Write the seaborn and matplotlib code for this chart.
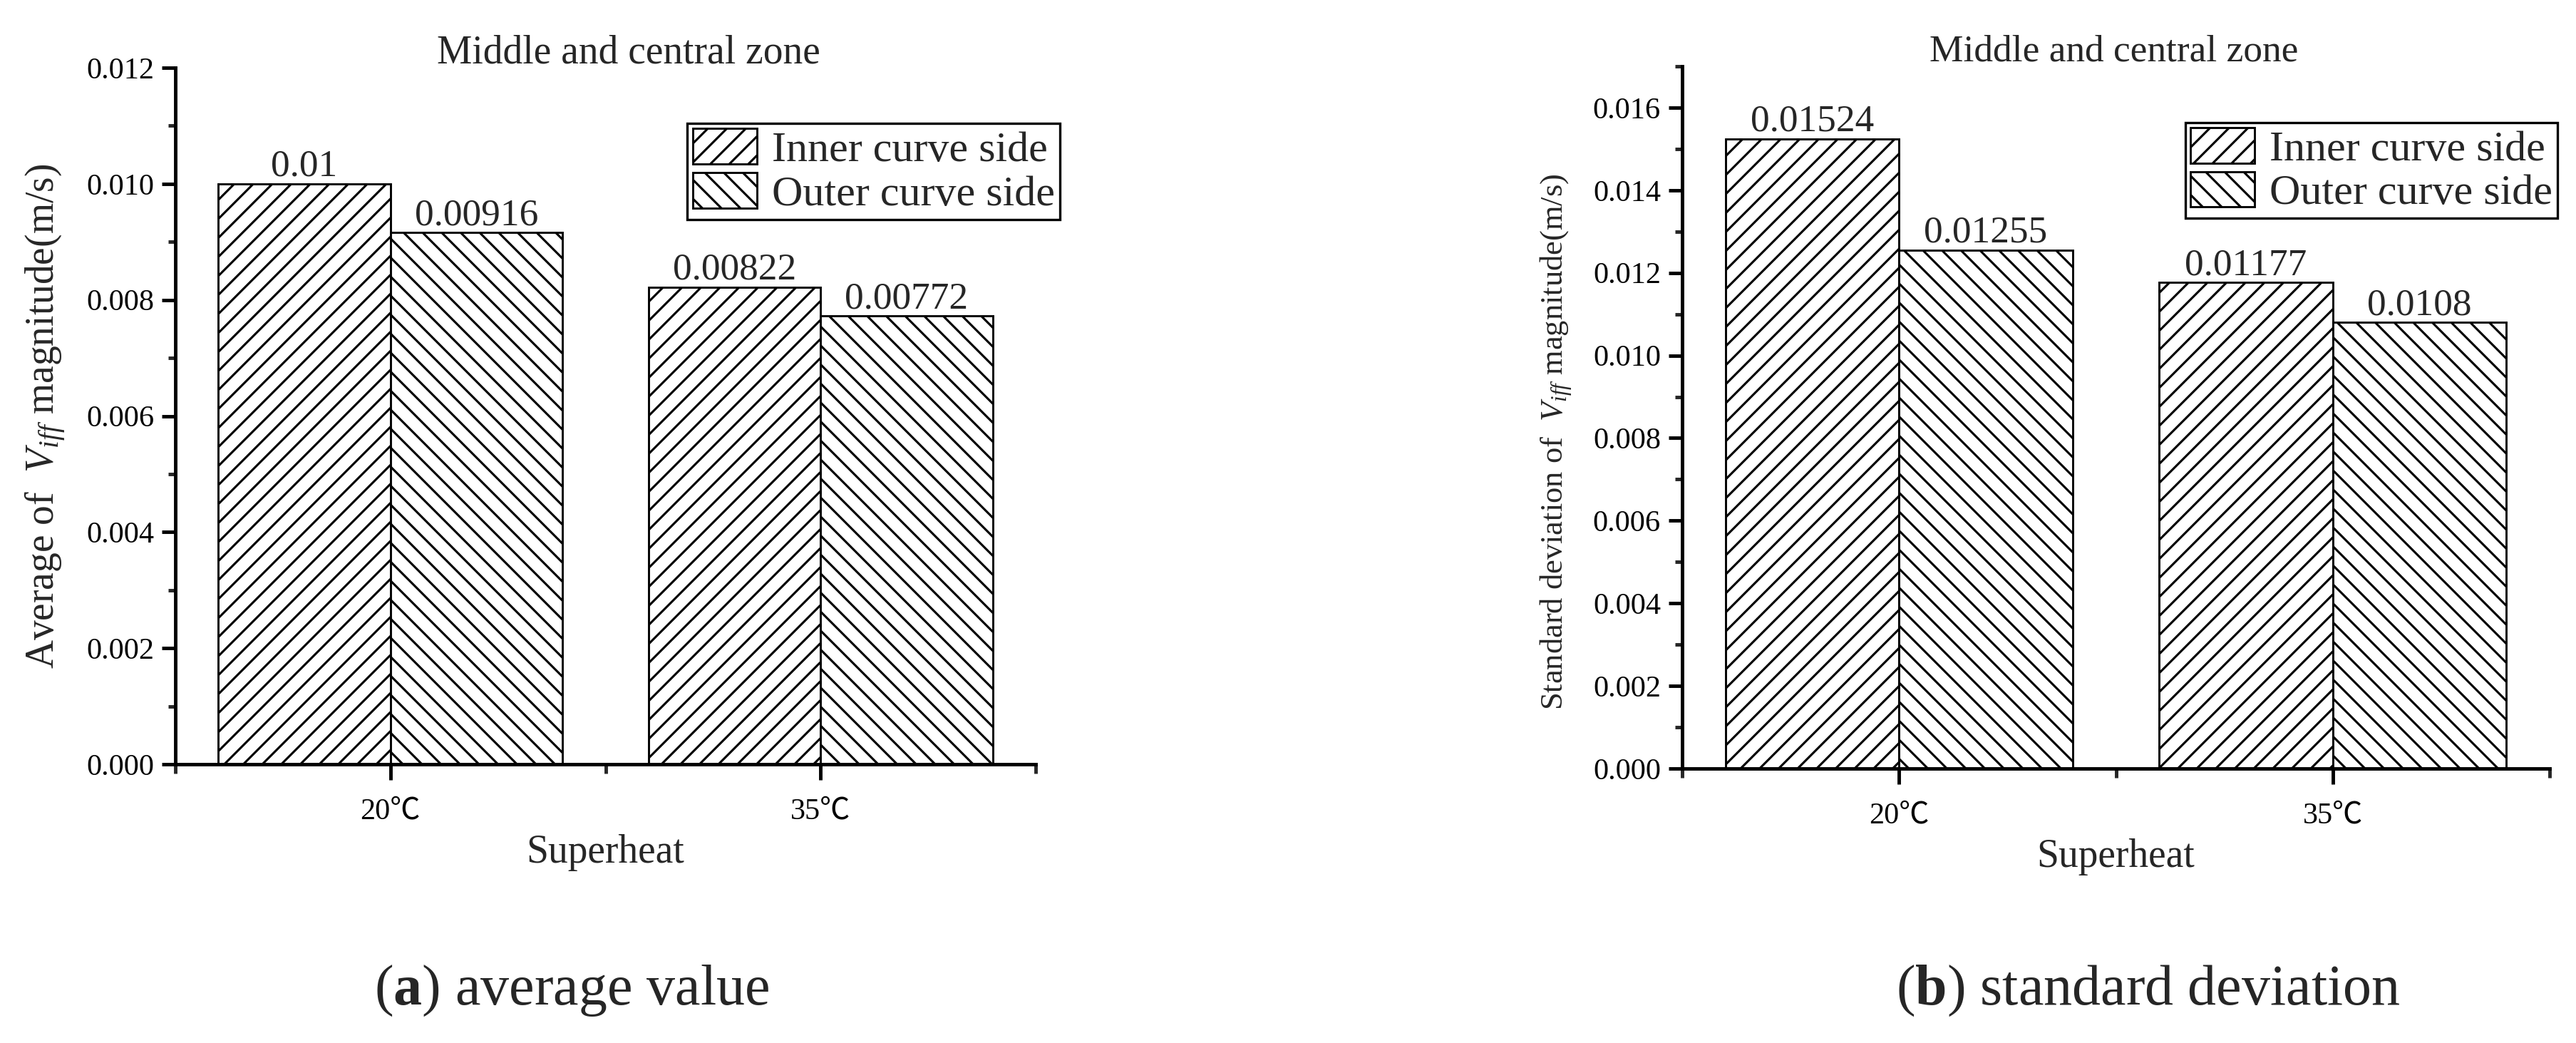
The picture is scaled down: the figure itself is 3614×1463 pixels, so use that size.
import numpy as np
import pandas as pd
import matplotlib
matplotlib.use("Agg")
import matplotlib.pyplot as plt
from matplotlib.patches import Patch
from matplotlib.ticker import MultipleLocator, FormatStrFormatter
import seaborn as sns

# ---------------- data ----------------
categories = ["20℃", "35℃"]
series = ["Inner curve side", "Outer curve side"]
avg_inner = [0.01, 0.00822]
avg_outer = [0.00916, 0.00772]
std_inner = [0.01524, 0.01177]
std_outer = [0.01255, 0.0108]
hatches = ["//", "\\\\"]

sns.set_theme(style="white")
FAM = ["Liberation Serif", "Noto Sans CJK SC", "DejaVu Serif"]
plt.rcParams["font.family"] = FAM
plt.rcParams["mathtext.fontset"] = "custom"
plt.rcParams["mathtext.rm"] = "Liberation Serif"
plt.rcParams["mathtext.it"] = "Liberation Serif:italic"
plt.rcParams["mathtext.bf"] = "Liberation Serif:bold"
plt.rcParams["hatch.linewidth"] = 1.4
plt.rcParams["hatch.color"] = "black"

DPI = 160
fig = plt.figure(figsize=(3614 / DPI, 1463 / DPI), dpi=DPI)
fig.patch.set_facecolor("white")


def make_df(inner, outer):
    rows = []
    for c, v in zip(categories, inner):
        rows.append({"Superheat": c, "Side": series[0], "value": v})
    for c, v in zip(categories, outer):
        rows.append({"Superheat": c, "Side": series[1], "value": v})
    return pd.DataFrame(rows)


def draw(ax, inner, outer, ymax, ylabel, sizes, leg_anchor, title_x, ylab_xy):
    df = make_df(inner, outer)
    sns.barplot(data=df, x="Superheat", y="value", hue="Side", order=categories,
                hue_order=series, palette=["white", "white"], saturation=1,
                edgecolor="black", linewidth=1.3, errorbar=None, legend=False, ax=ax)
    for cont, h in zip(ax.containers, hatches):
        for bar in cont:
            bar.set_hatch(h)
            bar.set_facecolor("white")
            bar.set_edgecolor("black")
        ax.bar_label(cont, labels=[f"{b.get_height():g}" for b in cont],
                     fontsize=sizes["bar"], padding=0)
    ax.set_xlim(-0.5, 1.5)
    ax.set_ylim(0, ymax)
    ax.yaxis.set_major_locator(MultipleLocator(0.002))
    ax.yaxis.set_minor_locator(MultipleLocator(0.001))
    ax.yaxis.set_major_formatter(FormatStrFormatter("%.3f"))
    ax.set_xticks([-0.5, 0.5, 1.5], minor=True)
    for s in ["top", "right"]:
        ax.spines[s].set_visible(False)
    for s in ["left", "bottom"]:
        ax.spines[s].set_linewidth(2.2)
        ax.spines[s].set_color("black")
    ax.tick_params(axis="y", which="major", direction="out", length=8.5, width=2.2,
                   labelsize=sizes["ytick"], pad=5, left=True, colors="black")
    ax.tick_params(axis="y", which="minor", direction="out", length=4.5, width=2.2, left=True)
    ax.tick_params(axis="x", which="major", direction="out", length=10, width=2.2,
                   labelsize=sizes["xtick"], pad=11, bottom=True, colors="black")
    ax.tick_params(axis="x", which="minor", direction="out", length=6, width=2.2, bottom=True)
    ax.set_xlabel("Superheat", fontsize=sizes["xlabel"])
    ax.xaxis.set_label_coords(0.5, -0.10)
    ax.set_ylabel(ylabel, fontsize=sizes["ylabel"])
    ax.yaxis.set_label_coords(*ylab_xy)
    ax.text(title_x, 1.021, "Middle and central zone", transform=ax.transAxes,
            ha="center", va="center", fontsize=sizes["title"])
    handles = [Patch(facecolor="white", edgecolor="black", hatch=h, linewidth=1.3) for h in hatches]
    leg = ax.legend(handles, series, loc="upper right", bbox_to_anchor=leg_anchor,
                    frameon=True, fancybox=False, framealpha=1, edgecolor="black",
                    fontsize=sizes["legend"], borderpad=0.12, labelspacing=0.05,
                    handlelength=1.5, handleheight=0.9, handletextpad=0.35,
                    borderaxespad=0)
    leg.get_frame().set_linewidth(1.5)
    ax.set_facecolor("white")


W, H = 3614, 1463
axL = fig.add_axes([246 / W, 1 - 1072 / H, (1453 - 246) / W, (1072 - 95) / H])
axR = fig.add_axes([2360 / W, 1 - 1078 / H, (3577 - 2360) / W, (1078 - 93) / H])

draw(axL, avg_inner, avg_outer, 0.012, r"Average of  $V_{iff}$ magnitude(m/s)",
     dict(bar=24, ytick=19, xtick=19, xlabel=25, ylabel=25, title=25, legend=27),
     (1.028, 0.920), 0.527, (-0.125, 0.5))
draw(axR, std_inner, std_outer, 0.017, r"Standard deviation of  $V_{iff}$ magnitude(m/s)",
     dict(bar=24, ytick=19, xtick=19, xlabel=25, ylabel=20, title=24, legend=27),
     (1.009, 0.920), 0.498, (-0.125, 0.465))

fig.text(0.222, 0.05, r"($\mathbf{a}$) average value", ha="center", va="center", fontsize=36)
fig.text(0.834, 0.05, r"($\mathbf{b}$) standard deviation", ha="center", va="center", fontsize=36)

fig.savefig("out.png", dpi=DPI, facecolor="white")
